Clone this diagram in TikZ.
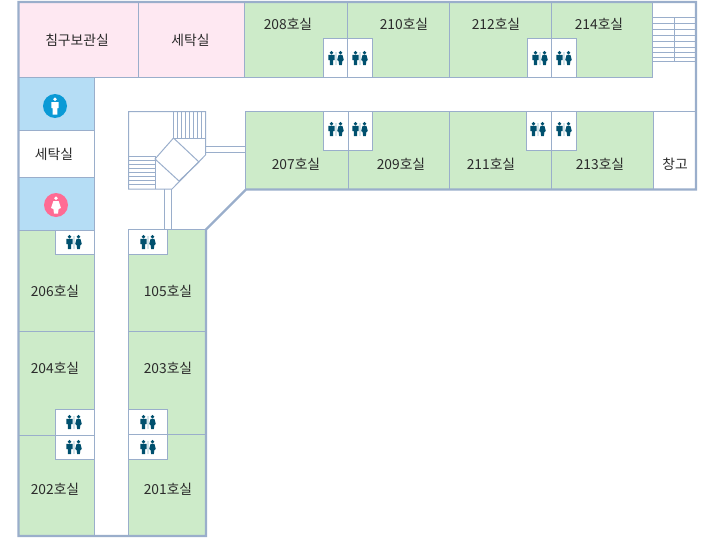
\documentclass[tikz,border=0pt]{standalone}
\usepackage{fontspec}
\setmainfont{Noto Sans CJK KR}
\definecolor{wall}{HTML}{9AAECB}
\definecolor{roomgreen}{HTML}{CDEBC9}
\definecolor{roompink}{HTML}{FEE8F2}
\definecolor{roomblue}{HTML}{B5DDF5}
\definecolor{teal}{HTML}{00506E}
\definecolor{tealbar}{HTML}{D5E5EB}
\definecolor{manblue}{HTML}{0A9AD6}
\definecolor{womanpink}{HTML}{FF6B94}
\definecolor{labelink}{HTML}{2B2B2B}
\tikzset{
  x=1pt,y=-1pt,
  wallline/.style={draw=wall,line width=1pt},
  outerwall/.style={draw=wall,line width=2.2pt,line join=miter},
  stairline/.style={draw=wall,line width=0.9pt},
  room/.style={fill=#1,draw=wall,line width=1pt},
  wcbox/.style={fill=white,draw=wall,line width=1pt},
  lbl/.style={font=\fontsize{13.8}{14}\selectfont,text=labelink,inner sep=0pt},
  wc/.pic={
    \fill[tealbar] (-1,-6) rectangle (1,7);
    \fill[teal] (-4.5,-5.2) circle (1.9);
    \fill[teal] (-7.6,-3.2) -- (-1.4,-3.2) -- (-1.4,2) -- (-2.8,2) -- (-2.8,7) -- (-6.2,7) -- (-6.2,2) -- (-7.6,2) -- cycle;
    \fill[teal] (4.5,-5.2) circle (1.9);
    \fill[teal] (2.6,-3.2) -- (6.4,-3.2) -- (7.8,2) -- (6.4,3) -- (5.9,7) -- (3.1,7) -- (2.6,3) -- (1.2,2) -- cycle;
  },
  manbadge/.pic={
    \fill[manblue] (0,0) circle (12);
    \fill[white] (0,-6.8) circle (1.9);
    \fill[white] (-3.6,-4) -- (3.6,-4) -- (3.6,2) -- (2.4,2) -- (2.4,8.5) -- (-2.4,8.5) -- (-2.4,2) -- (-3.6,2) -- cycle;
  },
  womanbadge/.pic={
    \fill[womanpink] (0,0) circle (12);
    \fill[white] (0,-6.8) circle (1.9);
    \fill[white] (-2.6,-4) -- (2.6,-4) -- (5,3) -- (2.6,4) -- (2,8.5) -- (-2,8.5) -- (-2.6,4) -- (-5,3) -- cycle;
  },
}
\begin{document}
\begin{tikzpicture}
\useasboundingbox (0,0) rectangle (709,538);
% rooms
\path[room=roompink] (18,2) rectangle (138.5,77.5);
\path[room=roompink] (138.5,2) rectangle (244.5,77.5);
\path[room=roomgreen] (244.5,2) rectangle (347.5,77.5);
\path[room=roomgreen] (347.5,2) rectangle (449.5,77.5);
\path[room=roomgreen] (449.5,2) rectangle (551.5,77.5);
\path[room=roomgreen] (551.5,2) rectangle (652.5,77.5);
\path[room=roomgreen] (245.5,111.5) rectangle (348.5,189);
\path[room=roomgreen] (348.5,111.5) rectangle (449.5,189);
\path[room=roomgreen] (449.5,111.5) rectangle (551.5,189);
\path[room=roomgreen] (551.5,111.5) rectangle (653.5,189);
\path[wallline,fill=white] (653.5,111.5) rectangle (696,189);
\path[room=roomblue] (18,77.5) rectangle (94.5,130.5);
\path[wallline,fill=white] (18,130.5) rectangle (94.5,177.5);
\path[room=roomblue] (18,177.5) rectangle (94.5,230.5);
\path[room=roomgreen] (18,230.5) rectangle (94.5,331.5);
\path[room=roomgreen] (18,331.5) rectangle (94.5,435.5);
\path[room=roomgreen] (18,435.5) rectangle (94.5,536);
\path[room=roomgreen] (128.5,229.5) rectangle (206,331.5);
\path[room=roomgreen] (128.5,331.5) rectangle (206,434.5);
\path[room=roomgreen] (128.5,434.5) rectangle (206,536);
% corridor edge right of the top rooms
\draw[wallline] (653.5,111.5) -- (696,111.5);
% washroom boxes
\foreach \xa/\ya/\xb/\yb in {
  323.5/38.5/347.5/77.5, 347.5/38.5/372.5/77.5, 527.5/38.5/551.5/77.5, 551.5/38.5/576.5/77.5,
  323.5/111.5/348.5/150.5, 348.5/111.5/372.5/150.5, 526.5/111.5/551.5/150.5, 551.5/111.5/576.5/150.5,
  55.5/230.5/94.5/254.5, 55.5/409.5/94.5/435.5, 55.5/435.5/94.5/459.5,
  128.5/229.5/167.5/254.5, 128.5/409.5/167.5/434.5, 128.5/434.5/167.5/459.5}
  {\path[wcbox] (\xa,\ya) rectangle (\xb,\yb);}
\foreach \cx/\cy in {336/58,360/58,540/58,564/58,336/129,360/129,538/129,564/129,
  74/242,148/242,74/422,74/447,148/422,148/447}
  {\pic at (\cx,\cy) {wc};}
% stair block
\draw[wallline] (128.5,111.5) -- (205.5,111.5) -- (205.5,155) -- (172,189) -- (128.5,189) -- cycle;
\draw[wallline] (173,111.5) -- (173,138) -- (205.5,138);
\draw[wallline] (128.5,156) -- (155,156) -- (155,189);
\foreach \sx in {177,181,185,189,193,197,201}
  {\draw[stairline] (\sx,111.5) -- (\sx,138);}
\foreach \sy in {160,164,168,172,176,180,184}
  {\draw[stairline] (128.5,\sy) -- (155,\sy);}
\draw[wallline] (173.5,138) -- (199,162) -- (179,181) -- (155,159) -- cycle;
\draw[wallline] (205.5,146.5) -- (245.5,146.5);
\draw[wallline] (205.5,152.5) -- (245.5,152.5);
\draw[wallline] (164.5,189) -- (164.5,229.5);
\draw[wallline] (171.5,189) -- (171.5,229.5);
% north-east stair
\draw[stairline] (652.5,77.5) -- (652.5,2);
\foreach \sy in {17.5,23.5,29.5,35.5,41,47,52.5,57,61.5}
  {\draw[stairline] (652.5,\sy) -- (696,\sy);}
\draw[stairline] (674.5,17.5) -- (674.5,61.5);
% outer wall
\draw[outerwall] (18.5,2) -- (696,2) -- (696,189.5) -- (246,189.5) -- (206,229.5) -- (206,536) -- (18.5,536) -- cycle;
% badges
\pic at (55,106) {manbadge};
\pic at (56,205) {womanbadge};
% labels
\node[lbl] (l1) at (77,40) {침구보관실};
\node[lbl] (l2) at (190.5,40) {세탁실};
\node[lbl] (l3) at (54,154) {세탁실};
\node[lbl] (r208) at (288,24) {208호실};
\node[lbl] (r210) at (404,24) {210호실};
\node[lbl] (r212) at (496,24) {212호실};
\node[lbl] (r214) at (599,24) {214호실};
\node[lbl] (r207) at (296,164) {207호실};
\node[lbl] (r209) at (401,164) {209호실};
\node[lbl] (r211) at (491,164) {211호실};
\node[lbl] (r213) at (600,164) {213호실};
\node[lbl] (store) at (675,164) {창고};
\node[lbl] (r206) at (55,291) {206호실};
\node[lbl] (r105) at (168,291) {105호실};
\node[lbl] (r204) at (55,368) {204호실};
\node[lbl] (r203) at (168,368) {203호실};
\node[lbl] (r202) at (55,489) {202호실};
\node[lbl] (r201) at (168,489) {201호실};
\end{tikzpicture}
\end{document}
